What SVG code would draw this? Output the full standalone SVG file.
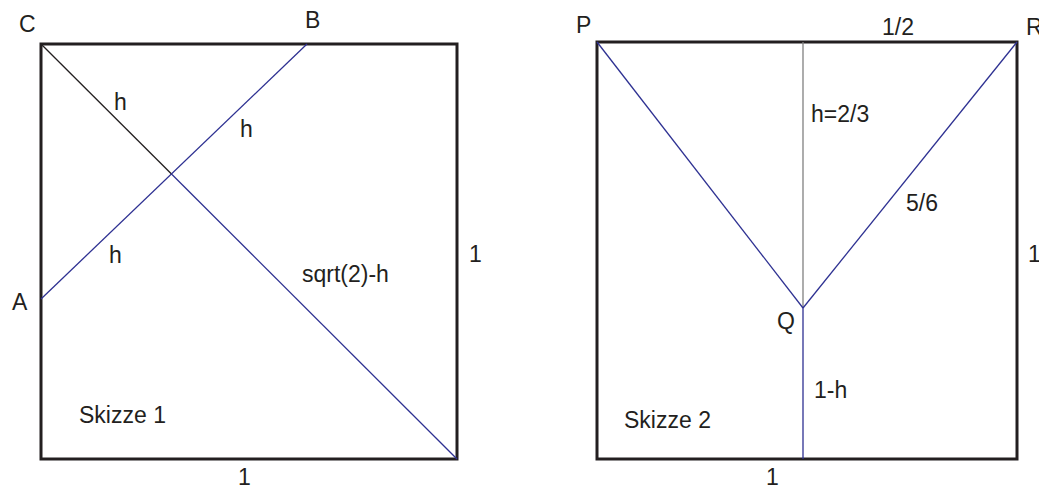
<svg xmlns="http://www.w3.org/2000/svg" width="1039" height="488" viewBox="0 0 1039 488">
<style>
.frame{fill:none;stroke:#231f20;stroke-width:3}
.blue{stroke:#2e3192;stroke-width:1.3;fill:none}
.black{stroke:#231f20;stroke-width:1.3;fill:none}
.gray{stroke:#808080;stroke-width:1.3;fill:none}
text{font-family:"Liberation Sans",Arial,sans-serif;font-size:23px;fill:#231f20}
</style>
<rect width="1039" height="488" fill="#fff"/>
<g id="skizze1">
<rect class="frame" x="41" y="44" width="416" height="415"/>
<g id="connectors1">
<line class="black" x1="41" y1="44" x2="172" y2="174.5"/>
<line class="blue" x1="172" y1="174.5" x2="457" y2="459"/>
<line class="blue" x1="41" y1="299" x2="307" y2="44"/>
</g>
<text x="19" y="32">C</text>
<text x="305" y="28">B</text>
<text x="12" y="310">A</text>
<text x="114" y="110">h</text>
<text x="240" y="137">h</text>
<text x="109" y="263">h</text>
<text x="302" y="282">sqrt(2)-h</text>
<text x="469" y="262">1</text>
<text x="79" y="423">Skizze 1</text>
<text x="238" y="485">1</text>
</g>
<g id="skizze2">
<rect class="frame" x="597" y="42" width="420" height="417"/>
<g id="connectors2">
<line class="gray" x1="803" y1="42" x2="803" y2="308"/>
<line class="blue" x1="803" y1="308" x2="803" y2="459"/>
<line class="blue" x1="597" y1="42" x2="803" y2="308"/>
<line class="blue" x1="1017" y1="42" x2="803" y2="308"/>
</g>
<text x="576" y="33">P</text>
<text x="882" y="35">1/2</text>
<text x="1026" y="35">R</text>
<text x="811" y="122">h=2/3</text>
<text x="906" y="211">5/6</text>
<text x="1028" y="262">1</text>
<text x="777" y="329">Q</text>
<text x="814" y="398">1-h</text>
<text x="624" y="428">Skizze 2</text>
<text x="766" y="485">1</text>
</g>
</svg>
